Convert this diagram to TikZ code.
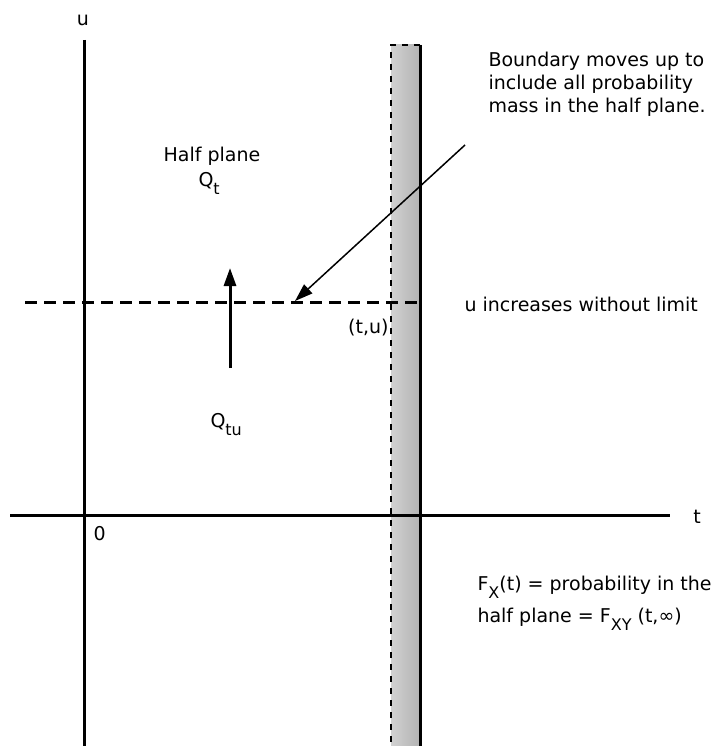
\documentclass[tikz,border=0pt]{standalone}
\usepackage{fontspec}
\setmainfont{DejaVu Sans}
\usetikzlibrary{arrows.meta}
\newcommand{\lsub}[1]{\raisebox{-8pt}{\fontsize{16}{16}\selectfont #1}}

\begin{document}
\begin{tikzpicture}[x=1pt, y=-1pt, line width=3pt,
  font=\fontsize{19}{23}\selectfont,
  txt/.style={inner sep=0pt},
  tip/.style={-{Triangle[length=18pt, width=12pt]}}]
  \useasboundingbox (0,0) rectangle (724,746);
  % shaded strip up to t
  \shade[left color=black!18, right color=black!30] (391,45) rectangle (420,746);
  \draw[line width=1.5pt, dash pattern=on 6pt off 6pt] (420,45) -- (391,45) -- (391,746);
  \draw (420,45) -- (420,746);
  % axes
  \draw (84,40) -- (84,746);
  \draw (10,515) -- (670,515);
  \node[txt, anchor=base] (ulab) at (83,26) {u};
  \node[txt, anchor=base] (tlab) at (697,523) {t};
  \node[txt, anchor=base west] (zero) at (92,540) {0};
  % moving boundary
  \draw[dash pattern=on 12pt off 7pt] (25,302) -- (420,302);
  \coordinate (hit) at (295,301);
  \coordinate (from) at (465,145);
  \draw[tip] (230,368) -- (230,268);
  \draw[tip, line width=1.5pt] (from) -- (hit);
  % labels
  \node[txt, anchor=base] (half) at (212,162) {Half plane};
  \node[txt, anchor=base west] (qt) at (197,186) {Q\lsub{t}};
  \node[txt, anchor=base west] (qtu) at (209,427) {Q\lsub{tu}};
  \node[txt, anchor=base east] (tu) at (390,333) {(t,u)};
  \node[txt, anchor=base west] (incr) at (463,311) {u increases without limit};
  \node[txt, anchor=base west, align=left] (moves) at (487,113)
    {Boundary moves up to\\include all probability\\mass in the half plane.};
  \node[txt, anchor=base west] (fx1) at (476,590)
    {F\lsub{X}(t) = probability in the};
  \node[txt, anchor=base west] (fx2) at (476,622)
    {half plane = F\lsub{XY} (t,∞)};
\end{tikzpicture}
\end{document}
